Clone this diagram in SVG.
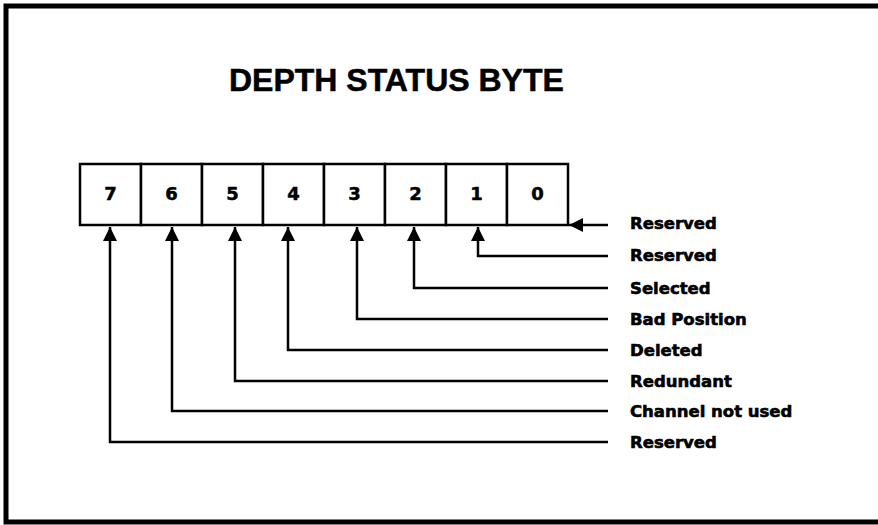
<svg xmlns="http://www.w3.org/2000/svg" width="878" height="525" viewBox="0 0 878 525">
<defs>
<style>
.frame{fill:none;stroke:#000;stroke-width:5}
.box{fill:#fff;stroke:#000;stroke-width:2.5}
.digit{font-family:"DejaVu Sans",sans-serif;font-weight:bold;font-size:18px;text-anchor:middle;fill:#000;stroke:#000;stroke-width:0.5}
.lbl{font-family:"DejaVu Sans",sans-serif;font-weight:bold;font-size:16.5px;fill:#000;stroke:#000;stroke-width:0.6}
.title{font-family:"Liberation Sans",Arial,sans-serif;font-weight:bold;font-size:32px;fill:#000;stroke:#000;stroke-width:0.5}
.wire{fill:none;stroke:#000;stroke-width:2.5}
</style>
<marker id="ah" viewBox="0 0 10 10" refX="10" refY="5" markerWidth="18" markerHeight="14" markerUnits="userSpaceOnUse" orient="auto">
<path d="M0,0 L10,5 L0,10 Z" fill="#000"/>
</marker>
</defs>
<rect width="878" height="525" fill="#fff"/>
<path class="frame" d="M880,6 L6,6 L6,522 L880,522"/>
<text class="title" x="229" y="91">DEPTH STATUS BYTE</text>
<g id="bit7"><rect class="box" x="80" y="164" width="61" height="61"/><text class="digit" x="110.5" y="200">7</text></g>
<g id="bit6"><rect class="box" x="141" y="164" width="61" height="61"/><text class="digit" x="171.5" y="200">6</text></g>
<g id="bit5"><rect class="box" x="202" y="164" width="61" height="61"/><text class="digit" x="232.5" y="200">5</text></g>
<g id="bit4"><rect class="box" x="263" y="164" width="61" height="61"/><text class="digit" x="293.5" y="200">4</text></g>
<g id="bit3"><rect class="box" x="324" y="164" width="61" height="61"/><text class="digit" x="354.5" y="200">3</text></g>
<g id="bit2"><rect class="box" x="385" y="164" width="61" height="61"/><text class="digit" x="415.5" y="200">2</text></g>
<g id="bit1"><rect class="box" x="446" y="164" width="61" height="61"/><text class="digit" x="476.5" y="200">1</text></g>
<g id="bit0"><rect class="box" x="507" y="164" width="61" height="61"/><text class="digit" x="537.5" y="200">0</text></g>
<g id="connectors">
<path class="wire" d="M608,225 L569,225" marker-end="url(#ah)"/>
<path class="wire" d="M608,256 L478,256 L478,227" marker-end="url(#ah)"/>
<path class="wire" d="M608,288 L414,288 L414,227" marker-end="url(#ah)"/>
<path class="wire" d="M608,319 L357,319 L357,227" marker-end="url(#ah)"/>
<path class="wire" d="M608,350 L288,350 L288,227" marker-end="url(#ah)"/>
<path class="wire" d="M608,381 L235,381 L235,227" marker-end="url(#ah)"/>
<path class="wire" d="M608,411 L172,411 L172,227" marker-end="url(#ah)"/>
<path class="wire" d="M608,442 L110,442 L110,227" marker-end="url(#ah)"/>
</g>
<g id="labels">
<text class="lbl" x="630" y="229">Reserved</text>
<text class="lbl" x="630" y="261">Reserved</text>
<text class="lbl" x="630" y="294">Selected</text>
<text class="lbl" x="630" y="325">Bad Position</text>
<text class="lbl" x="630" y="356">Deleted</text>
<text class="lbl" x="630" y="387">Redundant</text>
<text class="lbl" x="630" y="417">Channel not used</text>
<text class="lbl" x="630" y="448">Reserved</text>
</g>
</svg>
